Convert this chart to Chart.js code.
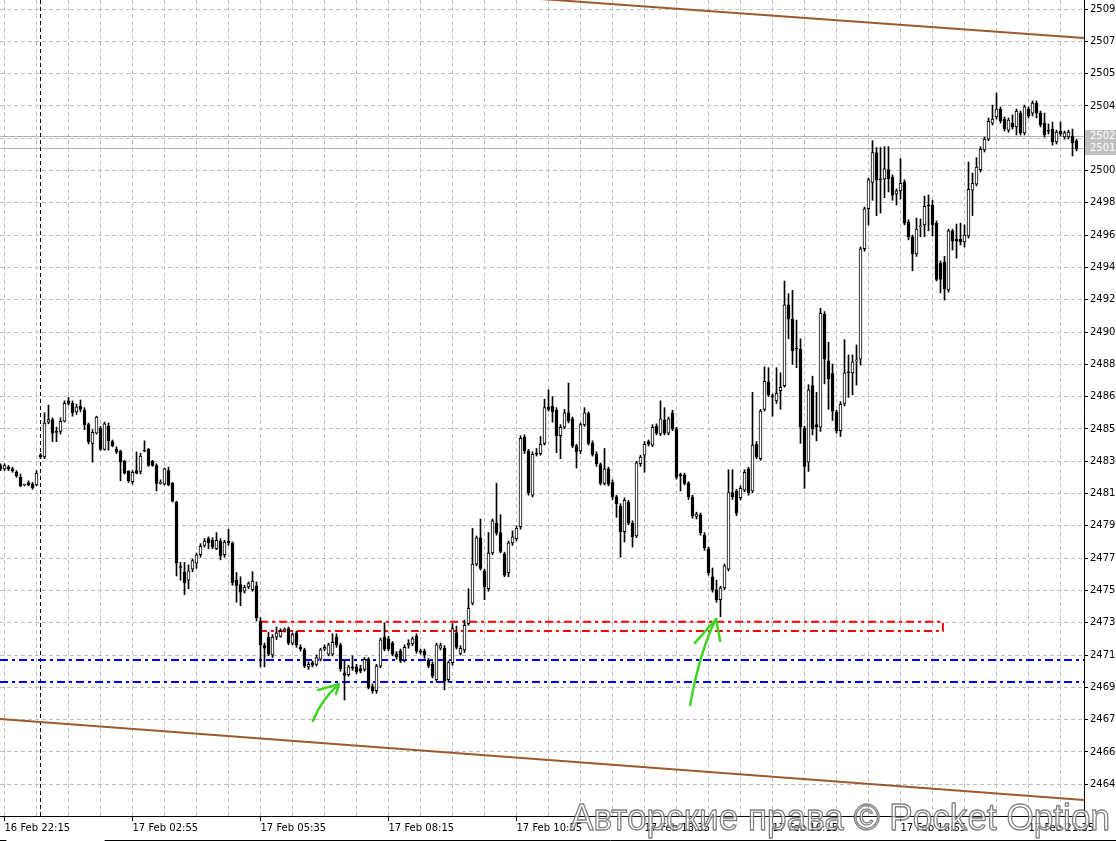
<!DOCTYPE html>
<html>
<head>
<meta charset="utf-8">
<title>17 Feb M5</title>
<script src="https://cdn.jsdelivr.net/npm/chart.js@4.4.1/dist/chart.umd.min.js"></script>
<style>
    html, body { margin: 0; padding: 0; background: #fff; }
    #chart-wrap { position: relative; width: 1116px; height: 841px; }
</style>
</head>
<body>
<div id="chart-wrap"><canvas id="price-chart"></canvas></div>
<script>
// M5 candles, oldest first
const opens = [
    2482.9, 2482.7, 2482.8, 2482.7, 2482.5, 2482.2, 2481.75, 2481.9, 2481.8, 2481.75,
    2483.5, 2483.4, 2485.45, 2485.6, 2484.9, 2484.9, 2485.5, 2486.7, 2486.55, 2486.05,
    2486.4, 2486.15, 2485.3, 2484.2, 2484.8, 2485.1, 2483.85, 2485.2, 2484.3, 2483.85,
    2483.75, 2483.15, 2482.55, 2481.95, 2482.6, 2482.55, 2483.8, 2483.85, 2483.15, 2482.9,
    2481.85, 2481.8, 2482.6, 2481.85, 2480.75, 2476.95, 2476.65, 2476.15, 2476.8, 2477.15,
    2477.65, 2478.2, 2478.6, 2478.5, 2478.0, 2478.45, 2477.65, 2478.45, 2478.35, 2476.15,
    2475.9, 2475.5, 2475.75, 2475.6, 2475.8, 2473.75, 2472.3, 2472.8, 2471.75, 2472.8,
    2472.85, 2473.2, 2473.3, 2472.45, 2473.05, 2472.2, 2472.05, 2471.05, 2471.3, 2471.2,
    2471.5, 2472.1, 2471.8, 2471.8, 2472.8, 2472.35, 2470.7, 2470.6, 2471.05, 2471.05,
    2470.95, 2470.9, 2471.5, 2469.9, 2469.65, 2471.1, 2472.8, 2472.7, 2472.45, 2471.8,
    2471.98, 2471.45, 2472.35, 2472.4, 2472.85, 2471.98, 2471.98, 2471.45, 2471.2, 2470.3,
    2472.15, 2472.15, 2470.3, 2471.3, 2473.05, 2471.85, 2472.05, 2473.6, 2474.8, 2477.1,
    2478.65, 2476.7, 2475.65, 2477.75, 2479.5, 2478.95, 2477.7, 2476.6, 2478.35, 2478.6,
    2479.3, 2484.57, 2483.75, 2481.15, 2483.63, 2483.6, 2484.2, 2486.35, 2486.4, 2486.15,
    2484.65, 2485.15, 2486.0, 2485.65, 2484.05, 2483.75, 2485.3, 2485.95, 2484.2, 2483.55,
    2482.95, 2481.85, 2482.7, 2481.9, 2481.05, 2480.5, 2479.0, 2480.75, 2479.5, 2478.75,
    2483.0, 2483.5, 2484.3, 2484.1, 2485.2, 2484.75, 2485.55, 2484.8, 2486.0, 2485.05,
    2482.35, 2482.35, 2481.85, 2481.05, 2479.9, 2480.0, 2478.8, 2477.99, 2476.35, 2475.58,
    2475.0, 2475.7, 2476.8, 2481.3, 2481.4, 2481.0, 2481.45, 2482.7, 2481.4, 2484.15,
    2483.3, 2486.2, 2487.8, 2486.99, 2486.7, 2487.3, 2487.6, 2492.35, 2491.5, 2489.8,
    2489.75, 2485.1, 2483.1, 2487.6, 2485.3, 2485.15, 2491.8, 2489.05, 2488.3, 2486.05,
    2484.95, 2486.55, 2488.4, 2488.35, 2489.05, 2489.15, 2495.65, 2498.0, 2499.55, 2501.3,
    2499.75, 2499.75, 2500.3, 2499.87, 2498.87, 2499.05, 2499.57, 2497.22, 2496.35, 2495.35,
    2496.93, 2497.05, 2498.22, 2498.22, 2497.15, 2494.8, 2494.87, 2493.22, 2496.7, 2496.22,
    2496.22, 2496.05, 2496.4, 2499.1, 2499.45, 2500.3, 2501.46, 2502.1, 2503.04, 2503.4,
    2503.87, 2503.28, 2502.63, 2503.04, 2502.81, 2503.63, 2502.46, 2503.87, 2503.63, 2504.22,
    2503.63, 2503.04, 2502.63, 2502.69, 2501.93, 2502.57, 2502.22, 2502.22, 2502.28, 2501.99
];
const highs = [
    2483.0, 2483.0, 2482.9, 2482.8, 2482.6, 2482.4, 2481.8, 2482.0, 2481.9, 2482.6,
    2483.6, 2486.0, 2486.45, 2485.7, 2485.15, 2485.7, 2486.7, 2486.9, 2486.7, 2486.5,
    2486.75, 2486.3, 2485.4, 2485.0, 2485.8, 2485.2, 2485.45, 2485.4, 2484.4, 2484.0,
    2483.8, 2483.2, 2482.6, 2482.6, 2483.7, 2483.6, 2484.35, 2483.9, 2483.2, 2483.0,
    2482.05, 2482.75, 2482.8, 2481.9, 2480.8, 2477.2, 2477.2, 2477.05, 2477.4, 2477.75,
    2478.3, 2478.6, 2478.7, 2478.65, 2478.95, 2478.6, 2478.5, 2479.15, 2478.4, 2476.6,
    2476.35, 2475.85, 2476.05, 2476.65, 2476.05, 2473.95, 2472.45, 2473.1, 2472.95, 2473.4,
    2473.3, 2473.35, 2473.4, 2473.05, 2473.15, 2472.35, 2472.15, 2471.35, 2471.4, 2471.75,
    2472.15, 2472.35, 2472.45, 2473.0, 2473.0, 2472.45, 2471.45, 2471.15, 2471.7, 2471.2,
    2471.15, 2471.6, 2471.6, 2470.05, 2471.2, 2472.75, 2473.65, 2472.85, 2472.55, 2471.95,
    2472.1, 2472.35, 2472.65, 2472.8, 2473.0, 2472.1, 2472.1, 2471.55, 2471.35, 2472.45,
    2472.45, 2472.3, 2471.4, 2473.6, 2473.45, 2472.3, 2473.8, 2475.65, 2479.2, 2478.75,
    2479.75, 2476.8, 2478.95, 2479.75, 2481.85, 2480.0, 2477.8, 2478.45, 2479.05, 2479.35,
    2484.65, 2484.7, 2483.85, 2483.7, 2483.9, 2484.6, 2486.8, 2487.35, 2486.95, 2486.3,
    2485.3, 2486.2, 2487.75, 2485.75, 2484.15, 2485.4, 2486.3, 2486.05, 2484.35, 2483.7,
    2483.05, 2483.9, 2482.8, 2482.05, 2481.15, 2480.65, 2481.0, 2480.85, 2479.65, 2483.15,
    2483.5, 2484.3, 2484.4, 2485.3, 2485.35, 2486.7, 2486.3, 2485.75, 2486.15, 2485.15,
    2482.45, 2482.45, 2481.95, 2481.15, 2480.15, 2480.1, 2478.95, 2478.1, 2476.87, 2476.15,
    2475.8, 2477.1, 2482.65, 2482.65, 2481.5, 2481.7, 2482.65, 2482.8, 2487.2, 2484.3,
    2486.2, 2488.7, 2488.65, 2487.1, 2488.65, 2488.35, 2493.75, 2493.0, 2493.2, 2491.45,
    2490.35, 2485.2, 2487.65, 2488.15, 2487.2, 2492.15, 2491.95, 2490.15, 2488.87, 2486.15,
    2486.65, 2490.3, 2489.4, 2489.4, 2489.99, 2495.75, 2498.1, 2499.8, 2502.0, 2501.6,
    2501.6, 2501.65, 2501.65, 2499.99, 2499.17, 2500.95, 2499.7, 2497.35, 2496.45, 2497.45,
    2497.4, 2498.75, 2498.81, 2498.5, 2497.28, 2494.93, 2495.2, 2496.8, 2496.8, 2497.1,
    2497.15, 2497.05, 2500.75, 2500.1, 2501.0, 2501.65, 2502.22, 2503.34, 2504.1, 2504.8,
    2503.99, 2503.4, 2503.34, 2503.52, 2503.87, 2503.75, 2504.1, 2503.99, 2504.34, 2504.34,
    2503.75, 2503.63, 2502.99, 2503.1, 2502.63, 2503.1, 2502.57, 2502.63, 2502.69, 2502.1
];
const lows = [
    2482.6, 2482.6, 2482.6, 2482.5, 2482.2, 2481.65, 2481.7, 2481.7, 2481.5, 2481.7,
    2483.3, 2483.3, 2485.35, 2484.3, 2484.3, 2484.75, 2485.45, 2486.45, 2485.8, 2485.9,
    2486.05, 2485.0, 2484.16, 2483.1, 2484.75, 2483.8, 2483.8, 2483.8, 2484.0, 2483.6,
    2482.0, 2482.4, 2481.9, 2481.8, 2482.4, 2482.4, 2483.7, 2482.85, 2482.85, 2481.4,
    2481.8, 2481.75, 2481.7, 2480.75, 2476.4, 2476.15, 2475.3, 2475.65, 2476.65, 2476.85,
    2477.5, 2478.1, 2478.0, 2478.0, 2477.95, 2477.35, 2477.5, 2478.2, 2475.85, 2474.85,
    2474.65, 2475.4, 2475.65, 2475.5, 2473.75, 2471.05, 2471.05, 2471.7, 2471.6, 2472.65,
    2472.8, 2473.1, 2472.35, 2472.35, 2472.2, 2471.98, 2471.0, 2470.9, 2471.05, 2471.1,
    2471.4, 2472.0, 2471.7, 2471.7, 2472.2, 2470.8, 2469.1, 2470.5, 2470.85, 2470.65,
    2470.7, 2470.8, 2469.75, 2469.5, 2469.5, 2471.0, 2472.0, 2472.0, 2471.7, 2471.5,
    2471.3, 2471.35, 2472.15, 2472.3, 2471.85, 2471.8, 2471.55, 2471.0, 2470.4, 2470.15,
    2472.05, 2469.7, 2470.15, 2471.15, 2472.1, 2471.75, 2471.9, 2473.5, 2474.7, 2477.0,
    2476.75, 2475.0, 2475.5, 2477.65, 2478.8, 2477.75, 2476.35, 2476.35, 2478.2, 2478.45,
    2479.15, 2483.6, 2481.15, 2481.05, 2483.45, 2483.5, 2484.1, 2486.1, 2485.45, 2483.65,
    2483.3, 2485.05, 2485.4, 2483.95, 2482.75, 2483.6, 2485.2, 2484.1, 2483.45, 2482.85,
    2481.75, 2481.75, 2481.7, 2480.9, 2479.85, 2477.5, 2478.4, 2479.4, 2478.1, 2478.65,
    2482.85, 2482.5, 2484.05, 2484.0, 2484.7, 2484.65, 2484.7, 2484.7, 2484.95, 2482.1,
    2481.4, 2481.75, 2480.9, 2479.8, 2479.75, 2478.8, 2477.9, 2476.45, 2475.45, 2474.85,
    2474.0, 2475.6, 2476.7, 2480.9, 2479.95, 2480.87, 2481.35, 2481.15, 2481.3, 2483.3,
    2483.2, 2486.1, 2486.95, 2485.8, 2486.55, 2486.2, 2487.5, 2490.35, 2488.85, 2488.65,
    2484.2, 2481.55, 2482.55, 2484.7, 2484.35, 2484.9, 2487.7, 2486.2, 2485.55, 2484.8,
    2484.6, 2486.4, 2486.9, 2487.05, 2487.63, 2488.8, 2495.5, 2497.05, 2498.5, 2497.6,
    2497.75, 2498.65, 2498.99, 2498.5, 2498.22, 2498.57, 2497.05, 2496.17, 2494.35, 2495.2,
    2496.35, 2496.35, 2496.7, 2496.4, 2493.75, 2493.05, 2492.63, 2493.1, 2495.57, 2495.1,
    2495.87, 2495.75, 2496.28, 2497.6, 2499.34, 2500.16, 2501.34, 2501.99, 2502.93, 2503.28,
    2503.04, 2502.57, 2502.5, 2502.69, 2502.34, 2502.34, 2502.34, 2503.34, 2503.46, 2503.34,
    2502.81, 2502.22, 2502.4, 2501.75, 2501.81, 2502.28, 2502.1, 2502.1, 2501.1, 2501.4
];
const closes = [
    2482.7, 2482.9, 2482.7, 2482.6, 2482.3, 2481.7, 2481.75, 2481.75, 2481.6, 2482.45,
    2483.4, 2485.4, 2485.6, 2484.8, 2484.85, 2485.5, 2486.55, 2486.55, 2486.0, 2486.35,
    2486.2, 2485.3, 2484.3, 2484.85, 2485.75, 2483.85, 2485.35, 2484.35, 2484.05, 2483.7,
    2483.1, 2482.45, 2482.0, 2482.5, 2482.45, 2483.45, 2483.75, 2482.9, 2482.9, 2481.85,
    2481.85, 2482.7, 2481.75, 2480.8, 2477.15, 2476.9, 2476.0, 2476.7, 2477.3, 2477.65,
    2478.15, 2478.45, 2478.35, 2478.1, 2478.5, 2477.6, 2478.4, 2478.35, 2476.0, 2475.85,
    2475.45, 2475.75, 2475.95, 2476.1, 2473.95, 2472.35, 2472.15, 2471.8, 2472.8, 2473.05,
    2473.15, 2473.2, 2472.45, 2472.95, 2472.35, 2472.1, 2471.1, 2471.2, 2471.15, 2471.6,
    2472.05, 2472.2, 2472.35, 2472.5, 2472.35, 2470.95, 2470.55, 2471.05, 2470.98, 2470.75,
    2470.8, 2471.5, 2469.85, 2469.65, 2471.1, 2472.65, 2472.1, 2472.1, 2471.8, 2471.65,
    2471.4, 2472.2, 2472.45, 2472.7, 2471.98, 2471.92, 2471.75, 2471.1, 2470.5, 2472.35,
    2472.3, 2470.2, 2471.3, 2473.3, 2472.2, 2472.15, 2473.5, 2474.5, 2477.1, 2478.65,
    2476.85, 2475.75, 2477.75, 2479.65, 2478.95, 2477.85, 2476.45, 2478.35, 2478.7, 2479.2,
    2484.5, 2483.75, 2481.3, 2483.55, 2483.57, 2484.15, 2486.3, 2486.2, 2486.05, 2484.65,
    2485.15, 2486.0, 2485.5, 2484.05, 2483.7, 2485.3, 2486.0, 2484.2, 2483.55, 2483.0,
    2481.85, 2482.7, 2481.8, 2481.05, 2480.65, 2479.0, 2480.85, 2479.5, 2478.7, 2483.05,
    2483.4, 2484.15, 2484.15, 2485.15, 2484.8, 2485.65, 2484.8, 2485.65, 2485.05, 2482.2,
    2482.3, 2481.85, 2481.05, 2479.95, 2480.05, 2478.95, 2478.05, 2476.6, 2475.6, 2475.0,
    2475.7, 2477.0, 2481.3, 2481.05, 2480.1, 2481.55, 2482.5, 2481.3, 2484.1, 2483.4,
    2486.1, 2487.85, 2487.05, 2486.93, 2487.15, 2487.5, 2492.35, 2491.5, 2489.65, 2489.75,
    2485.15, 2482.85, 2487.35, 2485.05, 2485.15, 2491.85, 2489.15, 2488.0, 2486.1, 2484.95,
    2486.5, 2488.35, 2488.35, 2489.0, 2489.05, 2495.65, 2498.0, 2499.7, 2501.3, 2499.7,
    2499.7, 2500.35, 2499.75, 2498.8, 2499.05, 2499.5, 2497.15, 2496.35, 2495.35, 2496.8,
    2496.99, 2498.15, 2498.16, 2497.05, 2493.85, 2493.85, 2493.3, 2496.7, 2496.1, 2496.1,
    2496.05, 2496.45, 2499.15, 2499.5, 2500.45, 2501.5, 2502.1, 2503.15, 2503.28, 2503.87,
    2503.16, 2502.7, 2503.22, 2502.81, 2503.75, 2502.46, 2503.99, 2503.46, 2504.22, 2503.63,
    2502.93, 2502.34, 2502.57, 2501.93, 2502.51, 2502.4, 2502.46, 2502.51, 2501.87, 2501.52
];

// price axis (MT4 style, truncated labels)
const yTickValues = [
    2509.75, 2507.85, 2505.95, 2504.05, 2502.15, 2500.25, 2498.35, 2496.45, 2494.55,
    2492.65, 2490.75, 2488.85, 2486.95, 2485.05, 2483.15, 2481.25, 2479.35, 2477.45,
    2475.55, 2473.65, 2471.75, 2469.85, 2467.95, 2466.05, 2464.15
];
const yTickLabels = [
    '2509', '2507', '2505', '2504', '2502', '2500', '2498', '2496', '2494',
    '2492', '2490', '2488', '2486', '2485', '2483', '2481', '2479', '2477',
    '2475', '2473', '2471', '2469', '2467', '2466', '2464'
];

// time axis
const xLabelIdx = [1, 33, 65, 97, 129, 161, 193, 225, 257];
const xLabels = [
    '16 Feb 22:15', '17 Feb 02:55', '17 Feb 05:35', '17 Feb 08:15', '17 Feb 10:55',
    '17 Feb 13:35', '17 Feb 16:15', '17 Feb 18:55', '17 Feb 21:35'
];
const daySeparatorIdx = 10;

// drawn objects
const blueLevels = [2471.45, 2470.16];
const redZoneX = [64.9, 235.6];
const redZoneY = [2473.70, 2473.16];
const channelX = [-0.125, 270.875];
const channelUpper = [2512.63, 2508.04];
const channelLower = [2467.99, 2463.22];
const askPrice = 2502.3;
const bidPrice = 2501.58;

// hand drawn arrows: tail, bend, tip, barb, barb  as [index, price]
const arrowMarks = [
    [[78.1, 2467.87], [80.1, 2469.10], [84.6, 2470.04], [79.4, 2469.69], [83.9, 2469.46]],
    [[172.4, 2468.81], [174.9, 2472.04], [178.9, 2473.87], [173.6, 2472.46], [179.9, 2472.57]]
];

const X_MIN = -0.125;
const X_MAX = 270.875;

class CandleChartPage {
    constructor() {
        this.chart = null;
        this.idx = opens.map((_, i) => i);
        this.gridIdx = Array.from({ length: 34 }, (_, k) => 1 + 8 * k);
        this.render();
    }

    lineSet(points, color, width, dash, order) {
        return {
            type: 'line',
            data: points,
            borderColor: color,
            borderWidth: width,
            borderDash: dash,
            pointRadius: 0,
            fill: false,
            tension: 0,
            order: order
        };
    }

    buildDatasets() {
        const idx = this.idx;
        const dashDot = [8, 4, 3, 4];
        const sets = [
            {
                type: 'bar',
                label: 'wicks',
                data: idx.map(i => ({ x: i, y: [lows[i], highs[i]] })),
                backgroundColor: '#000',
                barThickness: 1,
                minBarLength: 1,
                grouped: false,
                order: 2
            },
            {
                type: 'bar',
                label: 'bodies',
                data: idx.map(i => ({ x: i, y: [opens[i], closes[i]] })),
                backgroundColor: idx.map(i => closes[i] >= opens[i] ? '#fff' : '#000'),
                borderColor: '#000',
                borderWidth: 1,
                borderSkipped: false,
                barThickness: 3,
                minBarLength: 1,
                grouped: false,
                order: 1
            }
        ];

        // channel
        sets.push(this.lineSet(channelX.map((x, k) => ({ x, y: channelUpper[k] })), '#9c5a2c', 2, [], 6));
        sets.push(this.lineSet(channelX.map((x, k) => ({ x, y: channelLower[k] })), '#9c5a2c', 2, [], 6));

        // support levels
        blueLevels.forEach(v => {
            sets.push(this.lineSet([{ x: X_MIN, y: v }, { x: X_MAX, y: v }], '#0000ff', 2, dashDot, 5));
        });

        // red zone drawn as open bracket
        sets.push(this.lineSet([
            { x: redZoneX[0], y: redZoneY[0] },
            { x: redZoneX[1], y: redZoneY[0] },
            { x: redZoneX[1], y: redZoneY[1] },
            { x: redZoneX[0], y: redZoneY[1] }
        ], '#ff0000', 2, dashDot, 5));

        return sets;
    }

    zeroPad(axis) {
        axis.paddingTop = 0;
        axis.paddingBottom = 0;
        axis.paddingLeft = 0;
        axis.paddingRight = 0;
    }

    buildOptions() {
        const tickFont = { family: '"DejaVu Sans", sans-serif', size: 10 };
        return {
            responsive: true,
            maintainAspectRatio: false,
            animation: false,
            layout: { padding: 0 },
            plugins: {
                legend: { display: false },
                tooltip: { enabled: false }
            },
            scales: {
                x: {
                    type: 'linear',
                    min: X_MIN,
                    max: X_MAX,
                    offset: false,
                    afterBuildTicks: axis => {
                        axis.ticks = this.gridIdx.map(v => ({ value: v }));
                    },
                    afterFit: axis => {
                        axis.height = 25;
                        this.zeroPad(axis);
                    },
                    grid: {
                        offset: false,
                        color: '#c0c0c0',
                        tickLength: 5,
                        tickColor: ctx => (ctx.tick && xLabelIdx.includes(ctx.tick.value)) ? '#000' : 'rgba(0,0,0,0)'
                    },
                    border: { color: '#000', width: 1, dash: [4, 3] },
                    ticks: {
                        autoSkip: false,
                        maxRotation: 0,
                        minRotation: 0,
                        align: 'start',
                        padding: 1,
                        color: '#000',
                        font: tickFont,
                        callback: value => {
                            const k = xLabelIdx.indexOf(value);
                            return k >= 0 ? xLabels[k] : '';
                        }
                    }
                },
                y: {
                    type: 'linear',
                    position: 'right',
                    min: 2462.28,
                    max: 2510.28,
                    beginAtZero: false,
                    afterBuildTicks: axis => {
                        axis.ticks = yTickValues.map(v => ({ value: v }));
                    },
                    afterFit: axis => {
                        axis.width = 32;
                        this.zeroPad(axis);
                    },
                    grid: {
                        color: '#c0c0c0',
                        tickLength: 4,
                        tickColor: '#000'
                    },
                    border: { color: '#000', width: 1, dash: [4, 3] },
                    ticks: {
                        padding: 2,
                        color: '#000',
                        font: tickFont,
                        callback: (value, index) => yTickLabels[index]
                    }
                }
            }
        };
    }

    overlayPlugin() {
        return {
            id: 'mtOverlay',
            beforeDatasetsDraw(chart) {
                const { ctx, chartArea, scales } = chart;
                const xs = scales.x, ys = scales.y;
                ctx.save();

                // bid / ask lines
                ctx.strokeStyle = '#b4b4b4';
                ctx.lineWidth = 1;
                [askPrice, bidPrice].forEach(p => {
                    const py = Math.round(ys.getPixelForValue(p)) + 0.5;
                    ctx.beginPath();
                    ctx.moveTo(chartArea.left, py);
                    ctx.lineTo(chartArea.right, py);
                    ctx.stroke();
                });

                // day separator
                const sx = Math.floor(xs.getPixelForValue(daySeparatorIdx)) + 0.5;
                ctx.strokeStyle = '#000';
                ctx.setLineDash([4, 3]);
                ctx.beginPath();
                ctx.moveTo(sx, chartArea.top);
                ctx.lineTo(sx, chartArea.bottom);
                ctx.stroke();
                ctx.restore();
            },
            afterDraw(chart) {
                const { ctx, chartArea, scales, width, height } = chart;
                const xs = scales.x, ys = scales.y;
                ctx.save();

                // bid / ask price boxes on the axis
                ctx.font = '10px "DejaVu Sans", sans-serif';
                ctx.textBaseline = 'middle';
                [[askPrice, '2502'], [bidPrice, '2501']].forEach(([p, txt]) => {
                    const py = Math.round(ys.getPixelForValue(p));
                    ctx.fillStyle = '#c0c0c0';
                    ctx.fillRect(chartArea.right + 1, py - 6, width - chartArea.right - 1, 13);
                    ctx.fillStyle = '#fff';
                    ctx.fillText(txt, chartArea.right + 6, py + 0.5);
                });

                // green hand drawn arrows
                ctx.strokeStyle = '#3cd622';
                ctx.lineWidth = 2.5;
                ctx.lineCap = 'round';
                ctx.lineJoin = 'round';
                arrowMarks.forEach(pts => {
                    const p = pts.map(([i, v]) => [xs.getPixelForValue(i), ys.getPixelForValue(v)]);
                    ctx.beginPath();
                    ctx.moveTo(p[0][0], p[0][1]);
                    ctx.quadraticCurveTo(p[1][0], p[1][1], p[2][0], p[2][1]);
                    ctx.stroke();
                    ctx.beginPath();
                    ctx.moveTo(p[3][0], p[3][1]);
                    ctx.lineTo(p[2][0], p[2][1]);
                    ctx.lineTo(p[4][0], p[4][1]);
                    ctx.stroke();
                });

                // window bottom edge
                ctx.strokeStyle = '#000';
                ctx.lineWidth = 1;
                ctx.beginPath();
                ctx.moveTo(0, height - 0.5);
                ctx.lineTo(6, height - 0.5);
                ctx.moveTo(105, height - 0.5);
                ctx.lineTo(width, height - 0.5);
                ctx.stroke();

                // watermark
                const text = 'Авторские права © Pocket Option';
                ctx.font = '36px "Liberation Sans", Arial, sans-serif';
                ctx.textBaseline = 'alphabetic';
                const w = ctx.measureText(text).width;
                ctx.translate(570, 830);
                ctx.scale(540 / w, 1);
                ctx.fillStyle = 'rgba(255,255,255,0.6)';
                ctx.fillText(text, 0, 0);
                ctx.strokeStyle = 'rgba(115,115,115,0.9)';
                ctx.lineWidth = 1.3;
                ctx.strokeText(text, 0, 0);
                ctx.restore();
            }
        };
    }

    render() {
        const canvas = document.getElementById('price-chart');
        if (this.chart) {
            this.chart.destroy();
        }
        this.chart = new Chart(canvas.getContext('2d'), {
            type: 'bar',
            data: { datasets: this.buildDatasets() },
            options: this.buildOptions(),
            plugins: [this.overlayPlugin()]
        });
    }
}

document.addEventListener('DOMContentLoaded', () => {
    window.candleChart = new CandleChartPage();
});
</script>
</body>
</html>
